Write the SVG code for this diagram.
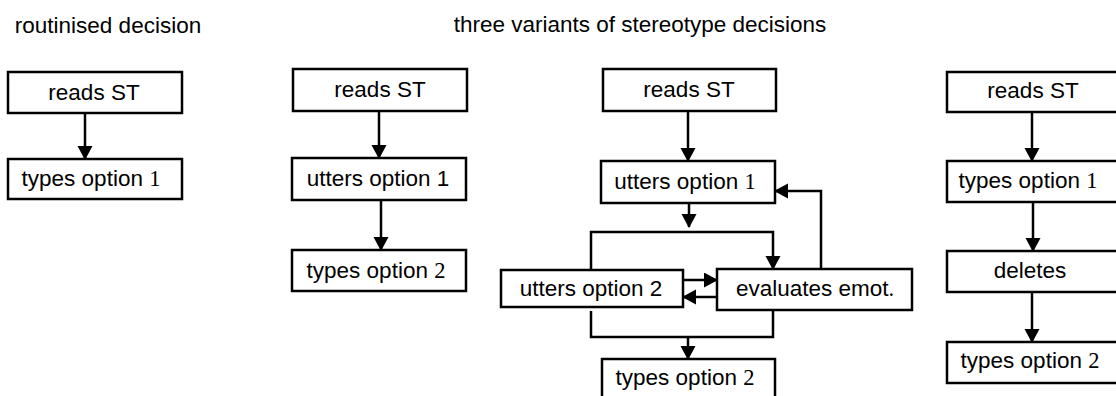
<svg xmlns="http://www.w3.org/2000/svg" width="1116" height="396" viewBox="0 0 1116 396">
<style>
.box{fill:#fff;stroke:#000;stroke-width:2.5}
.t{font-family:"Liberation Sans",Arial,sans-serif;font-size:22.5px;fill:#000;text-anchor:middle}
.title{font-family:"Liberation Sans",Arial,sans-serif;font-size:22.5px;fill:#000;text-anchor:middle}
.n{font-family:"Liberation Serif","Times New Roman",serif}
.c{fill:none;stroke:#000;stroke-width:2.5}
.a{marker-end:url(#ah)}
</style>
<defs>
<marker id="ah" markerUnits="userSpaceOnUse" markerWidth="16" markerHeight="16" refX="13" refY="7.5" orient="auto" viewBox="0 0 16 16">
<path d="M0,0 L14,7.5 L0,15 z" fill="#000"/>
</marker>
</defs>
<rect width="1116" height="396" fill="#fff"/>
<text class="title" x="108" y="33">routinised decision</text>
<text class="title" x="640" y="32">three variants of stereotype decisions</text>

<g id="connectors">
<line class="c a" x1="85" y1="113" x2="85" y2="159"/>
<line class="c a" x1="379" y1="111" x2="379" y2="158"/>
<line class="c a" x1="381" y1="200" x2="381" y2="250"/>
<line class="c a" x1="688" y1="111" x2="688" y2="161"/>
<line class="c a" x1="689" y1="203" x2="689" y2="227"/>
<polyline class="c a" points="591,270 591,232 773,232 773,269"/>
<polyline class="c a" points="821,269 821,191 775,191"/>
<line class="c a" x1="683" y1="280" x2="717" y2="280"/>
<line class="c a" x1="717" y1="297" x2="683" y2="297"/>
<polyline class="c" points="591,311 591,337 773,337 773,310"/>
<line class="c a" x1="688" y1="337" x2="688" y2="359"/>
<line class="c a" x1="1032" y1="112" x2="1032" y2="161"/>
<line class="c a" x1="1033" y1="202" x2="1033" y2="251"/>
<line class="c a" x1="1032" y1="292" x2="1032" y2="342"/>
</g>

<g id="c1-reads"><rect class="box" x="8" y="72" width="174" height="41"/><text class="t" x="94" y="100">reads ST</text></g>
<g id="c1-types1"><rect class="box" x="8" y="159" width="174" height="40"/><text class="t" x="91" y="186">types option <tspan class="n">1</tspan></text></g>

<g id="c2-reads"><rect class="box" x="293" y="69" width="174" height="42"/><text class="t" x="380" y="97">reads ST</text></g>
<g id="c2-utters1"><rect class="box" x="292" y="158" width="174" height="42"/><text class="t" x="378" y="186">utters option 1</text></g>
<g id="c2-types2"><rect class="box" x="292" y="250" width="174" height="41"/><text class="t" x="376" y="278">types option <tspan class="n">2</tspan></text></g>

<g id="c3-reads"><rect class="box" x="603" y="69" width="173" height="42"/><text class="t" x="689" y="97">reads ST</text></g>
<g id="c3-utters1"><rect class="box" x="601" y="161" width="174" height="42"/><text class="t" x="685" y="189">utters option <tspan class="n">1</tspan></text></g>
<g id="c3-utters2"><rect class="box" x="501" y="270" width="182" height="37"/><text class="t" x="591" y="296">utters option 2</text></g>
<g id="c3-evaluates"><rect class="box" x="717" y="269" width="195" height="41"/><text class="t" x="815" y="296">evaluates emot<tspan class="n">.</tspan></text></g>
<g id="c3-types2"><rect class="box" x="602" y="359" width="173" height="42"/><text class="t" x="685" y="385">types option <tspan class="n">2</tspan></text></g>

<g id="c4-reads"><rect class="box" x="947" y="72" width="174" height="40"/><text class="t" x="1033" y="98">reads ST</text></g>
<g id="c4-types1"><rect class="box" x="947" y="161" width="174" height="41"/><text class="t" x="1028" y="188">types option <tspan class="n">1</tspan></text></g>
<g id="c4-deletes"><rect class="box" x="947" y="251" width="174" height="41"/><text class="t" x="1030" y="278">deletes</text></g>
<g id="c4-types2"><rect class="box" x="947" y="342" width="174" height="41"/><text class="t" x="1030" y="368">types option <tspan class="n">2</tspan></text></g>
</svg>
